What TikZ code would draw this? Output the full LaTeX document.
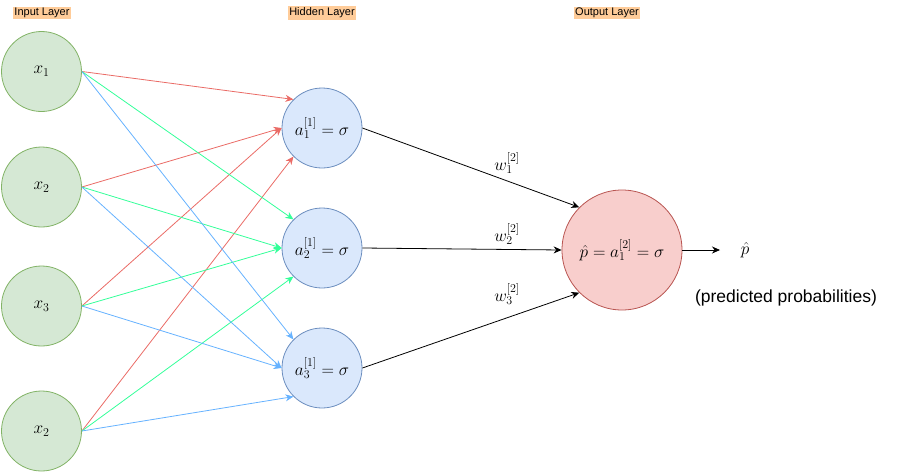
\documentclass[tikz,border=0pt]{standalone}
\usepackage{fontspec}
\setsansfont{Liberation Sans}
\usetikzlibrary{arrows.meta}

\definecolor{inFill}{HTML}{D5E8D4}
\definecolor{inLine}{HTML}{82B366}
\definecolor{hidFill}{HTML}{DAE8FC}
\definecolor{hidLine}{HTML}{6C8EBF}
\definecolor{outFill}{HTML}{F8CECC}
\definecolor{outLine}{HTML}{B85450}
\definecolor{tagFill}{HTML}{FFCC99}
\definecolor{wRed}{HTML}{EA6B66}
\definecolor{wGreen}{HTML}{33FF99}
\definecolor{wBlue}{HTML}{66B2FF}

\tikzset{
  neuron/.style={circle, draw, line width=0.8pt, inner sep=0pt, minimum size=80pt,
    font=\fontsize{17}{20}\selectfont},
  inneuron/.style={neuron, fill=inFill, draw=inLine},
  hidneuron/.style={neuron, fill=hidFill, draw=hidLine},
  outneuron/.style={neuron, fill=outFill, draw=outLine, minimum size=120pt},
  layertag/.style={fill=tagFill, inner xsep=1pt, inner ysep=1.5pt,
    font=\sffamily\fontsize{11}{13}\selectfont},
  wire/.style={line width=0.8pt, -{Stealth[length=8pt,width=7pt]}},
  redwire/.style={wire, draw=wRed},
  greenwire/.style={wire, draw=wGreen},
  bluewire/.style={wire, draw=wBlue},
  blackwire/.style={wire, draw=black},
  wlabel/.style={font=\fontsize{17}{20}\selectfont},
}

\begin{document}
\begin{tikzpicture}[x=1pt, y=-1pt]
  \path[use as bounding box] (0,0) rectangle (903,472);

  % layer headings
  \node[layertag] (tIn)  at (42,13)  {Input Layer};
  \node[layertag] (tHid) at (322,13) {Hidden Layer};
  \node[layertag] (tOut) at (607,13) {Output Layer};

  % input neurons
  \node[inneuron] (x1) at (41.5,71.5) {$x_1$};
  \node[inneuron] (x2) at (41.5,187)  {$x_2$};
  \node[inneuron] (x3) at (41.5,306)  {$x_3$};
  \node[inneuron] (x4) at (41.5,431)  {$x_2$};

  % hidden neurons
  \node[hidneuron] (a1) at (322,128) {$a^{[1]}_1=\sigma$};
  \node[hidneuron] (a2) at (322,248) {$a^{[1]}_2=\sigma$};
  \node[hidneuron] (a3) at (322,368) {$a^{[1]}_3=\sigma$};

  % output neuron
  \node[outneuron] (out) at (622,250) {$\hat{p}=a^{[2]}_1=\sigma$};
  \coordinate (outEnd) at (720,250);
  \node[wlabel] (phat) at (745,250) {$\hat{p}$};
  \node[font=\sffamily\fontsize{17.5}{20}\selectfont] (pred) at (786,298) {(predicted probabilities)};

  % input -> hidden 1
  \draw[redwire] (x1.east) -- (a1.135);
  \draw[redwire] (x2.east) -- (a1.west);
  \draw[redwire] (x3.east) -- (a1.west);
  \draw[redwire] (x4.east) -- (a1.225);
  % input -> hidden 2
  \draw[greenwire] (x1.east) -- (a2.135);
  \draw[greenwire] (x2.east) -- (a2.west);
  \draw[greenwire] (x3.east) -- (a2.west);
  \draw[greenwire] (x4.east) -- (a2.225);
  % input -> hidden 3
  \draw[bluewire] (x1.east) -- (a3.135);
  \draw[bluewire] (x2.east) -- (a3.west);
  \draw[bluewire] (x3.east) -- (a3.west);
  \draw[bluewire] (x4.east) -- (a3.225);

  % hidden -> output
  \draw[blackwire] (a1.east) -- (out.135);
  \draw[blackwire] (a2.east) -- (out.west);
  \draw[blackwire] (a3.east) -- (out.225);
  \draw[blackwire] (out.east) -- (outEnd);

  % weight labels
  \node[wlabel] (w1) at (507,163) {$w^{[2]}_1$};
  \node[wlabel] (w2) at (507,234) {$w^{[2]}_2$};
  \node[wlabel] (w3) at (507,294) {$w^{[2]}_3$};
\end{tikzpicture}
\end{document}
